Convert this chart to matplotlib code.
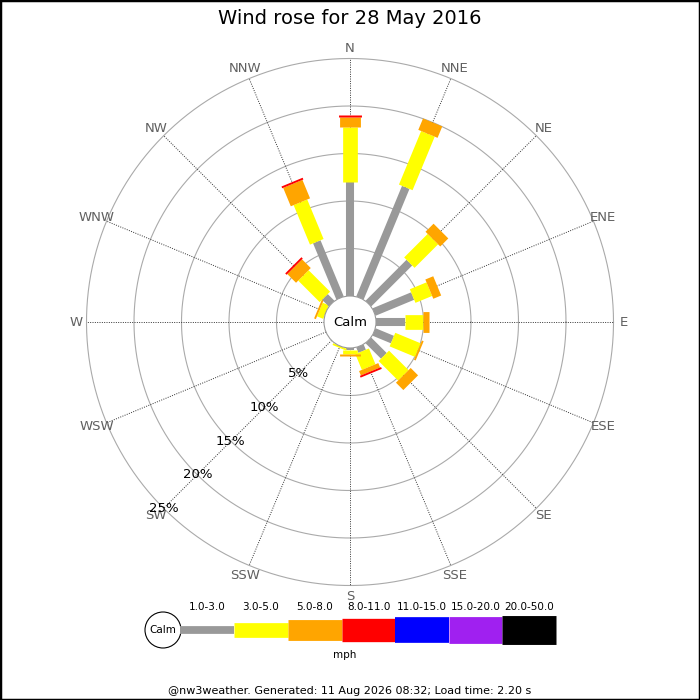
import numpy as np
import matplotlib
matplotlib.use("Agg")
import matplotlib.pyplot as plt
from matplotlib.patches import Circle, Rectangle


directions = ["N", "NNE", "NE", "ENE", "E", "ESE", "SE", "SSE",
              "S", "SSW", "SW", "WSW", "W", "WNW", "NW", "NNW"]
speed_bins = ["1.0-3.0", "3.0-5.0", "5.0-8.0", "8.0-11.0",
              "11.0-15.0", "15.0-20.0", "20.0-50.0"]
bin_colors = ["#999999", "#ffff00", "#ffa500", "#ff0000",
              "#0000ff", "#a020f0", "#000000"]

# percent of time per direction, one list per speed bin
pct_1_3 = [12.0, 12.6, 6.1, 4.4, 3.05, 2.1, 2.3, 0.6, 0.2, 0.0, 0.0, 0.0, 0.0, 0.0, 1.0, 6.4]
pct_3_5 = [5.8, 6.1, 3.5, 1.9, 1.9, 2.9, 2.9, 1.8, 0.4, 0.2, 0.0, 0.0, 0.0, 0.7, 3.2, 4.5]
pct_5_8 = [1.05, 1.3, 1.2, 0.9, 0.6, 0.2, 1.1, 0.5, 0.2, 0.0, 0.0, 0.0, 0.0, 0.2, 1.3, 2.1]
pct_8_11 = [0.2, 0.0, 0.0, 0.0, 0.0, 0.0, 0.0, 0.2, 0.0, 0.0, 0.0, 0.0, 0.0, 0.0, 0.2, 0.2]
pct_11_15 = [0.0] * 16
pct_15_20 = [0.0] * 16
pct_20_50 = [0.0] * 16
ring_pcts = [5, 10, 15, 20, 25]

title = "Wind rose for 28 May 2016"
footer = "@nw3weather. Generated: 11 Aug 2026 08:32; Load time: 2.20 s"

series = [pct_1_3, pct_3_5, pct_5_8, pct_8_11, pct_11_15, pct_15_20, pct_20_50]
bar_widths = [5.8, 10.6, 15.0, 16.5, 18.3, 19.3, 20.8]   # points

PX = 9.5          # pixels per percent
CALM_R = 26 / PX  # calm circle radius in percent units

fig = plt.figure(figsize=(7, 7), dpi=100)

# rose axes, data units = percent
ax = fig.add_axes([0, 0, 1, 1])
ax.set_xlim(-350 / PX, 350 / PX)
ax.set_ylim(-378 / PX, 322 / PX)
ax.set_aspect("equal")
ax.axis("off")

theta = np.linspace(0, 2 * np.pi, 400)
for p in ring_pcts:
    r = CALM_R + p
    ax.plot(r * np.cos(theta), r * np.sin(theta), color="#aaaaaa", lw=0.8, zorder=1)

outer = CALM_R + ring_pcts[-1]
for i, name in enumerate(directions):
    a = np.deg2rad(i * 22.5)
    dx, dy = np.sin(a), np.cos(a)
    ax.plot([CALM_R * dx, outer * dx], [CALM_R * dy, outer * dy],
            color="#333333", lw=0.7, ls=(0, (1, 1.4)), zorder=2)
    lr = 274 / PX
    ax.text(lr * dx, lr * dy, name, ha="center", va="center",
            fontsize=9.5, color="#606060", zorder=5)

    start = CALM_R
    for vals, col, w in zip(series, bin_colors, bar_widths):
        v = vals[i]
        if v <= 0:
            continue
        end = start + v
        ax.plot([start * dx, end * dx], [start * dy, end * dy],
                color=col, lw=w, solid_capstyle="butt", zorder=3)
        start = end

ax.add_patch(Circle((0, 0), CALM_R, facecolor="white", edgecolor="#999999",
                    lw=0.8, zorder=4))
ax.text(0, 0, "Calm", ha="center", va="center", fontsize=9.5, zorder=5)

sw = np.deg2rad(225)
for p in ring_pcts:
    r = CALM_R + p
    ax.text(r * np.sin(sw), r * np.cos(sw), f"{p}%", ha="center", va="center",
            fontsize=9.5, color="black", zorder=5)

# overlay in pixel units for title, legend and footer
ov = fig.add_axes([0, 0, 1, 1])
ov.set_xlim(0, 700)
ov.set_ylim(700, 0)
ov.axis("off")
ov.patch.set_alpha(0)

ov.text(350, 18, title, ha="center", va="center", fontsize=14)

ov.add_patch(Circle((163, 630), 18, facecolor="white", edgecolor="black", lw=0.8))
ov.text(163, 630, "Calm", ha="center", va="center", fontsize=7.5)
edges = [180, 234, 288, 342, 395, 449, 502, 556]
leg_widths = [5.6, 10.6, 15.0, 16.8, 18.5, 19.3, 20.8]
for k, (lab, col) in enumerate(zip(speed_bins, bin_colors)):
    ov.plot([edges[k], edges[k + 1]], [630, 630], color=col, lw=leg_widths[k],
            solid_capstyle="butt")
    ov.text((edges[k] + edges[k + 1]) / 2, 607, lab, ha="center", va="center",
            fontsize=7.5)
ov.text(345, 655, "mph", ha="center", va="center", fontsize=7.5)
ov.text(350, 691, footer, ha="center", va="center", fontsize=8)

fig.patches.append(Rectangle((0, 0), 1, 1, transform=fig.transFigure,
                             fill=False, edgecolor="black", lw=2.5))

fig.savefig("out.png", dpi=100)
